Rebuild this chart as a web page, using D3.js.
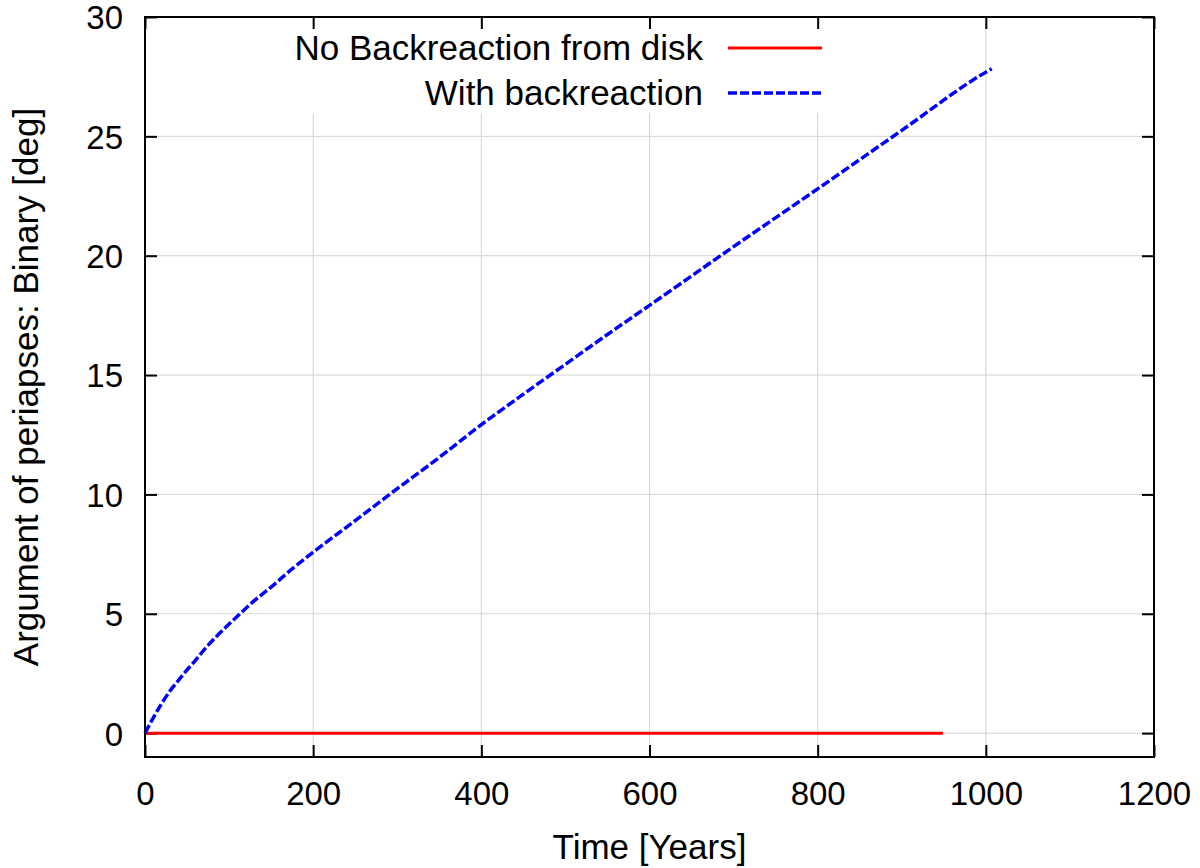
<!DOCTYPE html>
<html>
<head>
<meta charset="utf-8">
<script src="https://cdn.jsdelivr.net/npm/d3@7"></script>
<style>
  html, body { margin: 0; padding: 0; background: #fff; }
  svg { display: block; font-family: "Liberation Sans", Arial, Helvetica, sans-serif; }
</style>
</head>
<body>
<svg id="chart" width="1200" height="868"></svg>
<script>
// ---- data ----
const seriesNames = ["No Backreaction from disk", "With backreaction"];
const noBackTime = [0, 100, 200, 300, 400, 500, 600, 700, 800, 900, 949];
const noBackValue = [0, 0, 0, 0, 0, 0, 0, 0, 0, 0, 0];
const withBackTime = [0, 10, 20, 30, 40, 50, 60, 73, 85, 100, 113, 130, 150, 175, 200, 250, 292, 350, 400, 450, 500, 550, 600, 700, 800, 900, 1000, 1007];
const withBackValue = [0, 0.65, 1.25, 1.78, 2.22, 2.65, 3.05, 3.6, 4.05, 4.57, 5.0, 5.55, 6.12, 6.88, 7.58, 8.9, 10.03, 11.55, 12.92, 14.2, 15.45, 16.7, 17.92, 20.38, 22.8, 25.25, 27.69, 27.83];
const xTicks = [0, 200, 400, 600, 800, 1000, 1200];
const yTicks = [0, 5, 10, 15, 20, 25, 30];
const xLabel = "Time [Years]";
const yLabel = "Argument of periapses: Binary [deg]";

// ---- layout ----
const svg = d3.select("#chart");
const L = 145, R = 1154, T = 17, B = 757;
const x = d3.scaleLinear().domain([0, 1200]).range([L, R]);
const y = d3.scaleLinear().domain([-1, 30]).range([B, T]);

// grid
const grid = svg.append("g").attr("stroke", "#d4d4d4").attr("stroke-width", 1);
grid.selectAll("line.gx").data(xTicks.filter(d => d > 0 && d < 1200)).enter()
  .append("line").attr("x1", d => x(d)).attr("x2", d => x(d)).attr("y1", T).attr("y2", B);
grid.selectAll("line.gy").data(yTicks.filter(d => d < 30)).enter()
  .append("line").attr("y1", d => y(d)).attr("y2", d => y(d)).attr("x1", L).attr("x2", R);

// legend background (covers grid)
svg.append("rect").attr("x", 278).attr("y", T + 1).attr("width", 556).attr("height", 95).attr("fill", "#fff");

// axes with inward ticks
const tickLen = 12;
const axB = d3.axisBottom(x).tickValues(xTicks).tickSize(-tickLen).tickFormat(d3.format("d"));
const axT = d3.axisTop(x).tickValues(xTicks).tickSize(-tickLen).tickFormat("");
const axL = d3.axisLeft(y).tickValues(yTicks).tickSize(-tickLen).tickFormat(d3.format("d"));
const axR = d3.axisRight(y).tickValues(yTicks).tickSize(-tickLen).tickFormat("");

function style(g) {
  g.select(".domain").remove();
  g.selectAll(".tick line").attr("stroke", "#000").attr("stroke-width", 2);
  g.selectAll(".tick text").attr("fill", "#000").attr("font-size", 33)
    .attr("font-family", "Liberation Sans, Arial, sans-serif");
}
svg.append("g").attr("transform", `translate(0,${B})`).call(axB).call(style)
  .selectAll(".tick text").attr("dy", "0.71em").attr("y", 25);
svg.append("g").attr("transform", `translate(0,${T})`).call(axT).call(style);
svg.append("g").attr("transform", `translate(${L},0)`).call(axL).call(style)
  .selectAll(".tick text").attr("dy", "0.36em").attr("x", -22);
svg.append("g").attr("transform", `translate(${R},0)`).call(axR).call(style);

// series
const line = d3.line().x(d => x(d[0])).y(d => y(d[1]));
const redData = noBackTime.map((t, i) => [t, noBackValue[i]]);
const blueData = withBackTime.map((t, i) => [t, withBackValue[i]]);
svg.append("path").datum(redData).attr("d", line).attr("fill", "none")
  .attr("stroke", "#ff0000").attr("stroke-width", 3);
svg.append("path").datum(blueData).attr("d", d3.line().curve(d3.curveMonotoneX).x(d => x(d[0])).y(d => y(d[1])))
  .attr("fill", "none").attr("stroke", "#0000ff").attr("stroke-width", 3.5).attr("stroke-dasharray", "9,3");

// border
svg.append("rect").attr("x", L).attr("y", T).attr("width", R - L).attr("height", B - T)
  .attr("fill", "none").attr("stroke", "#000").attr("stroke-width", 2);

// legend
const leg = svg.append("g").attr("font-size", 35).attr("fill", "#000");
const legRows = [
  { name: seriesNames[0], color: "#ff0000", dash: null, w: 3 },
  { name: seriesNames[1], color: "#0000ff", dash: "9,3", w: 3.5 }
];
legRows.forEach((r, i) => {
  const cy = 48 + i * 45;
  leg.append("text").attr("x", 703).attr("y", cy).attr("dy", "0.35em").attr("text-anchor", "end").text(r.name);
  const ln = leg.append("line").attr("x1", 728).attr("x2", 822).attr("y1", cy).attr("y2", cy)
    .attr("stroke", r.color).attr("stroke-width", r.w);
  if (r.dash) ln.attr("stroke-dasharray", r.dash);
});

// axis labels
svg.append("text").attr("x", (L + R) / 2).attr("y", 859).attr("text-anchor", "middle")
  .attr("font-size", 35).text(xLabel);
svg.append("text").attr("transform", `translate(38,${(T + B) / 2}) rotate(-90)`).attr("text-anchor", "middle")
  .attr("font-size", 35).text(yLabel);
</script>
</body>
</html>
